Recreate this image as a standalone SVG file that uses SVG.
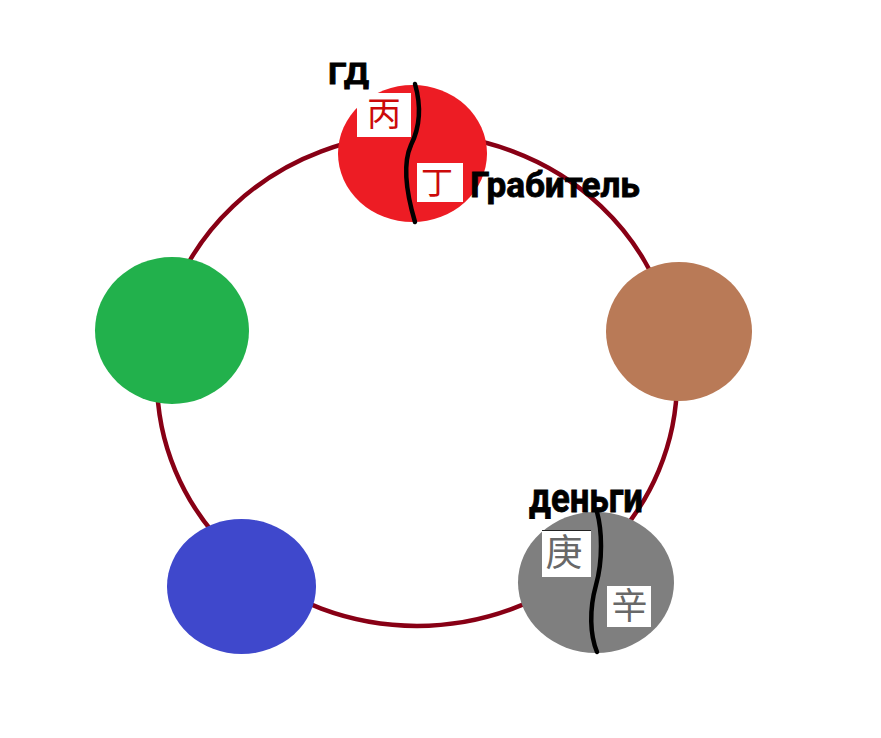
<svg xmlns="http://www.w3.org/2000/svg" width="881" height="738" viewBox="0 0 881 738">
<style>
.ring{fill:none;stroke:#880015;stroke-width:4.5}
.div{fill:none;stroke:#000;stroke-width:4.5;stroke-linecap:round}
.box{fill:#fff}
.lbl{font-family:Roboto,"Liberation Sans",sans-serif;font-weight:bold;fill:#000;stroke:#000;stroke-width:0.8}
.cjk{font-family:"Noto Sans CJK SC","Noto Sans CJK JP",sans-serif;text-anchor:middle}
.red{fill:#cc0a0a}
.gray{fill:#686868}
</style>
<rect width="881" height="738" fill="#fff"/>
<g id="connectors">
<ellipse class="ring" cx="417" cy="380" rx="260" ry="246"/>
</g>
<g id="node-green"><ellipse cx="172" cy="330.5" rx="77" ry="73.5" fill="#22b14c"/></g>
<g id="node-brown"><ellipse cx="679" cy="331.5" rx="73" ry="69.5" fill="#b97a57"/></g>
<g id="node-blue"><ellipse cx="241.5" cy="586.5" rx="74.5" ry="67.5" fill="#3f48cc"/></g>
<g id="node-red">
<ellipse cx="412.5" cy="153.5" rx="74.5" ry="68.5" fill="#ed1c24"/>
<rect class="box" x="357" y="93" width="54" height="44"/>
<text class="cjk red" x="384" y="126" font-size="34">丙</text>
<rect class="box" x="417" y="163" width="46" height="39"/>
<text class="cjk red" x="437" y="194" font-size="32">丁</text>
<path class="div" d="M415 84 C421 105,421 125,411 145 C402 165,407 195,415 222"/>
<text class="lbl" x="328" y="84" font-size="30" textLength="41" lengthAdjust="spacingAndGlyphs">ГД</text>
<text class="lbl" x="470" y="197" font-size="35" textLength="170" lengthAdjust="spacingAndGlyphs">Грабитель</text>
</g>
<g id="node-gray">
<ellipse cx="596" cy="582.5" rx="78" ry="70.5" fill="#7f7f7f"/>
<rect class="box" x="542" y="530" width="49" height="47"/>
<line x1="542" y1="530.5" x2="591" y2="530.5" stroke="#222" stroke-width="1"/>
<text class="cjk gray" x="564" y="566" font-size="37">庚</text>
<rect class="box" x="607" y="586" width="44" height="41"/>
<text class="cjk gray" x="629.5" y="619" font-size="36">辛</text>
<path class="div" d="M597 512 C602 530,603 560,596 585 C589 610,590 635,597 652"/>
<text class="lbl" x="529" y="512" font-size="40" textLength="114" lengthAdjust="spacingAndGlyphs">деньги</text>
</g>
</svg>
